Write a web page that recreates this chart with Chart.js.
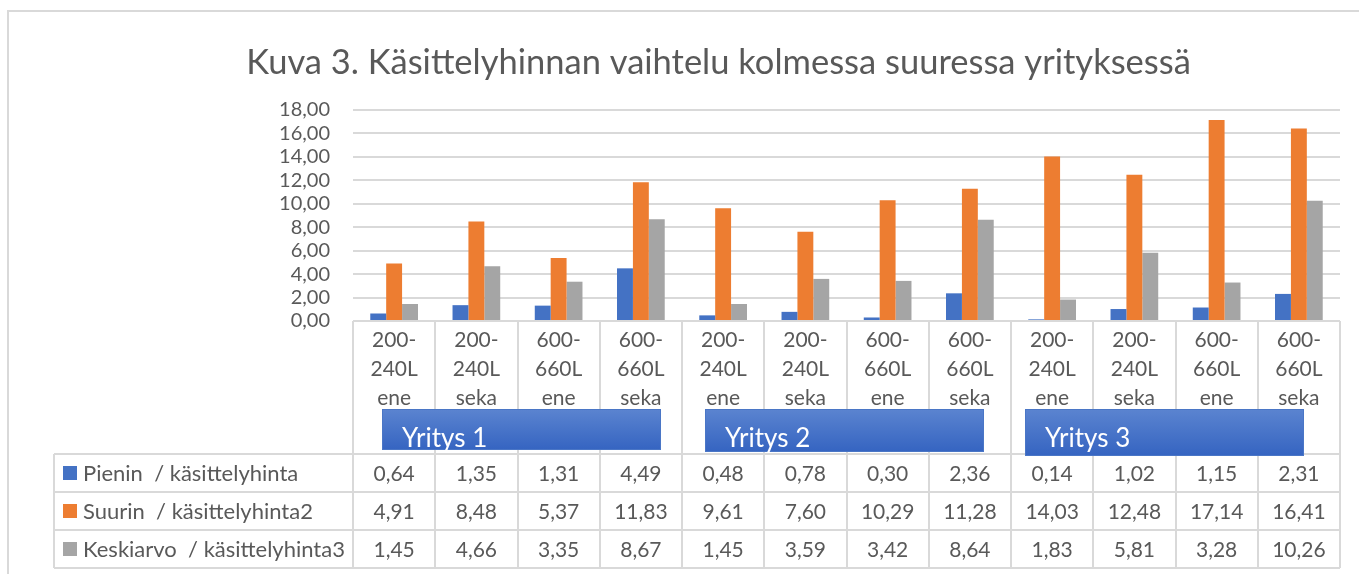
<!DOCTYPE html>
<html>
<head>
<meta charset="utf-8">
<script src="https://cdn.jsdelivr.net/npm/chart.js@4.4.1/dist/chart.umd.min.js"></script>
<style>
    html, body { margin: 0; padding: 0; background: #fff; }
    #wrap { position: relative; width: 1359px; height: 574px; overflow: hidden; }
    #frame { position: absolute; left: 7px; top: 10px; width: 1400px; height: 700px; border: 2px solid #d9d9d9; }
    #chart { position: absolute; left: 0; top: 0; }
</style>
</head>
<body>
<div id="wrap">
    <div id="frame"></div>
    <canvas id="chart" width="1359" height="574"></canvas>
</div>
<script>
// data
const categories = [
    ['200-', '240L', 'ene'], ['200-', '240L', 'seka'], ['600-', '660L', 'ene'], ['600-', '660L', 'seka'],
    ['200-', '240L', 'ene'], ['200-', '240L', 'seka'], ['600-', '660L', 'ene'], ['600-', '660L', 'seka'],
    ['200-', '240L', 'ene'], ['200-', '240L', 'seka'], ['600-', '660L', 'ene'], ['600-', '660L', 'seka']
];
const companies = ['Yritys 1', 'Yritys 2', 'Yritys 3'];
const seriesNames = ['Pienin  / käsittelyhinta', 'Suurin  / käsittelyhinta2', 'Keskiarvo  / käsittelyhinta3'];
const pienin = [0.64, 1.35, 1.31, 4.49, 0.48, 0.78, 0.30, 2.36, 0.14, 1.02, 1.15, 2.31];
const suurin = [4.91, 8.48, 5.37, 11.83, 9.61, 7.60, 10.29, 11.28, 14.03, 12.48, 17.14, 16.41];
const keskiarvo = [1.45, 4.66, 3.35, 8.67, 1.45, 3.59, 3.42, 8.64, 1.83, 5.81, 3.28, 10.26];
const yMax = 18;
const yStep = 2;
const titleText = 'Kuva 3. Käsittelyhinnan vaihtelu kolmessa suuressa yrityksessä';

const textColor = '#595959';
const lineColor = '#d9d9d9';
const fontFamily = 'Lato, "Open Sans", sans-serif';

const fmt = v => v.toFixed(2).replace('.', ',');

// Excel-style data table + the three company shapes under the plot
const dataTable = {
    id: 'dataTable',
    afterDraw(chart) {
        const ctx = chart.ctx;
        const a = chart.chartArea;
        const x = chart.scales.x;
        const n = categories.length;
        const colW = (a.right - a.left) / n;
        const headBottom = 454;
        const rowH = 38;
        const tableLeft = 54;
        const sets = chart.data.datasets;
        const bottom = headBottom + rowH * sets.length;

        function line(x1, y1, x2, y2) {
            ctx.beginPath();
            ctx.moveTo(x1, y1);
            ctx.lineTo(x2, y2);
            ctx.stroke();
        }

        ctx.save();
        ctx.strokeStyle = lineColor;
        ctx.lineWidth = 2;
        for (let i = 0; i <= n; i++) {
            const xx = Math.round(a.left + i * colW);
            line(xx, a.bottom, xx, bottom);
        }
        line(tableLeft, headBottom, tableLeft, bottom);
        for (let r = 0; r <= sets.length; r++) {
            const yy = headBottom + r * rowH;
            line(tableLeft, yy, a.right, yy);
        }

        ctx.fillStyle = textColor;
        ctx.font = '21px ' + fontFamily;
        ctx.textAlign = 'center';
        ctx.textBaseline = 'middle';
        categories.forEach((lines, i) => {
            const cx = x.getPixelForValue(i);
            lines.forEach((t, j) => ctx.fillText(t, cx, a.bottom + 19 + j * 29));
        });

        sets.forEach((ds, r) => {
            const cy = headBottom + r * rowH + rowH / 2;
            ctx.fillStyle = textColor;
            ctx.textAlign = 'center';
            ctx.font = '21px ' + fontFamily;
            ds.data.forEach((v, i) => ctx.fillText(fmt(v), x.getPixelForValue(i), cy + 1));
            ctx.fillStyle = ds.backgroundColor;
            ctx.fillRect(63, cy - 7, 14, 14);
            ctx.fillStyle = textColor;
            ctx.textAlign = 'left';
            ctx.font = '22px ' + fontFamily;
            ctx.fillText(ds.label, 83, cy + 1);
        });

        // hand-placed shapes, like in the original sheet
        const boxes = [[382, 661, 409, 450], [705, 984, 409, 452], [1025, 1304, 409, 456]];
        companies.forEach((name, k) => {
            const [l, r, t, b] = boxes[k];
            const g = ctx.createLinearGradient(0, t, 0, b);
            g.addColorStop(0, '#5b84d0');
            g.addColorStop(1, '#3564c1');
            ctx.fillStyle = g;
            ctx.fillRect(l, t, r - l, b - t);
            ctx.strokeStyle = '#4a76c6';
            ctx.lineWidth = 1;
            ctx.strokeRect(l + 0.5, t + 0.5, r - l - 1, b - t - 1);
            ctx.fillStyle = '#ffffff';
            ctx.font = '26px ' + fontFamily;
            ctx.textAlign = 'left';
            ctx.textBaseline = 'alphabetic';
            ctx.fillText(name, l + 20, 447);
        });
        ctx.restore();
    }
};

new Chart(document.getElementById('chart'), {
    type: 'bar',
    data: {
        labels: categories.map(c => c.join(' ')),
        datasets: [
            { label: seriesNames[0], data: pienin, backgroundColor: '#4472c4' },
            { label: seriesNames[1], data: suurin, backgroundColor: '#ed7d31' },
            { label: seriesNames[2], data: keskiarvo, backgroundColor: '#a5a5a5' }
        ]
    },
    options: {
        responsive: false,
        animation: false,
        devicePixelRatio: 1,
        datasets: { bar: { categoryPercentage: 0.58, barPercentage: 1 } },
        layout: { padding: { left: 97, right: 19, top: 0, bottom: 253 } },
        plugins: {
            legend: { display: false },
            tooltip: { enabled: false },
            title: {
                display: true,
                text: titleText,
                color: textColor,
                font: { family: fontFamily, size: 34.5, weight: 'normal', lineHeight: 1.2 },
                padding: { top: 42, bottom: 26.5 }
            }
        },
        scales: {
            x: { display: false },
            y: {
                min: 0,
                max: yMax,
                afterFit(scale) { scale.width = 256; },
                ticks: {
                    stepSize: yStep,
                    autoSkip: false,
                    color: textColor,
                    padding: 23,
                    font: { family: fontFamily, size: 20 },
                    callback: v => fmt(v)
                },
                grid: { color: lineColor, lineWidth: 2, drawTicks: false },
                border: { display: false }
            }
        }
    },
    plugins: [dataTable]
});
</script>
</body>
</html>
